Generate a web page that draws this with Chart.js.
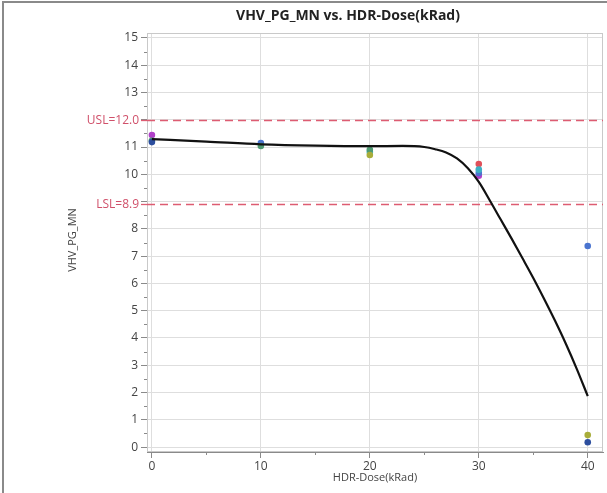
<!DOCTYPE html>
<html>
<head>
<meta charset="utf-8">
<script src="https://cdn.jsdelivr.net/npm/chart.js@4/dist/chart.umd.min.js"></script>
<style>
    html, body { margin: 0; padding: 0; background: #fff; }
    #wrap { position: relative; width: 607px; height: 493px; }
    #frame { position: absolute; left: 2px; top: 1px; right: 0; bottom: 0; border-top: 2px solid #8a8a8a; border-left: 2px solid #8a8a8a; pointer-events: none; }
</style>
</head>
<body>
<div id="wrap">
    <canvas id="doseChart" width="607" height="493"></canvas>
    <div id="frame"></div>
</div>
<script>
// dose levels and per-unit readings (null = hidden behind another point)
const doseLevels = [0, 10, 20, 30, 40];
const unitBlue    = [null, 11.15, null, 10.05, 7.37];
const unitRed     = [null, null, null, 10.38, null];
const unitGreen   = [11.23, 11.04, 10.9, null, null];
const unitMagenta = [11.44, null, null, 9.95, null];
const unitTeal    = [null, null, 10.82, 10.17, null];
const unitOlive   = [null, null, 10.71, null, 0.44];
const unitNavy    = [11.18, null, null, null, 0.18];

// fitted curve
const fitDose = [0, 5, 10, 15, 20, 23, 25, 26, 27, 28, 29, 30, 31, 32, 33, 34, 35, 36, 37, 38, 39, 40];
const fitVal  = [11.29, 11.2, 11.1, 11.05, 11.03, 11.04, 11.0, 10.92, 10.8, 10.58, 10.22, 9.72, 9.05, 8.35, 7.65, 6.93, 6.2, 5.43, 4.63, 3.78, 2.86, 1.87];

const yTicks = [0, 1, 2, 3, 4, 5, 6, 7, 8, 9, 10, 11, 12, 13, 14, 15];
const xTicks = [0, 10, 20, 30, 40];
const specLimits = [
    { label: 'USL=12.0', value: 12.0 },
    { label: 'LSL=8.9', value: 8.9 }
];
// tick labels covered by the spec limit labels
const hiddenYLabels = [12, 9];

const chartTitle = 'VHV_PG_MN vs. HDR-Dose(kRad)';
const yTitle = 'VHV_PG_MN';
const xTitle = 'HDR-Dose(kRad)';

const FONT = '"Open Sans", "Noto Sans", sans-serif';

function toPoints(values) {
    return doseLevels.map((d, i) => ({ x: d, y: values[i] })).filter(p => p.y !== null);
}

const units = [
    { vals: unitNavy, color: '#2c4e9e' },
    { vals: unitOlive, color: '#a8ad3a' },
    { vals: unitGreen, color: '#4f9a72' },
    { vals: unitTeal, color: '#3cb0c4' },
    { vals: unitBlue, color: '#4a74cf' },
    { vals: unitRed, color: '#e0505a' },
    { vals: unitMagenta, color: '#b040c8' }
];

const datasets = units.map(u => ({
    type: 'scatter',
    data: toPoints(u.vals),
    backgroundColor: u.color,
    borderColor: u.color,
    pointRadius: 3.3,
    borderWidth: 0,
    order: 2
}));

datasets.push({
    type: 'line',
    data: fitDose.map((d, i) => ({ x: d, y: fitVal[i] })),
    borderColor: '#111',
    borderWidth: 2.2,
    pointRadius: 0,
    cubicInterpolationMode: 'monotone',
    fill: false,
    order: 1
});

// extras: minor ticks, spec lines, titles, plot frame
const extras = {
    id: 'extras',
    beforeDatasetsDraw(chart) {
        const { ctx, chartArea: a, scales: { x, y } } = chart;
        ctx.save();
        ctx.strokeStyle = '#c9c9c9';
        ctx.lineWidth = 1;
        ctx.strokeRect(a.left + 0.5, a.top + 0.5, a.right - a.left - 1, a.bottom - a.top - 1);

        // minor ticks
        ctx.strokeStyle = '#8a8a8a';
        ctx.beginPath();
        for (let v = 0.5; v < 15; v += 1) {
            const py = Math.round(y.getPixelForValue(v)) + 0.5;
            ctx.moveTo(a.left - 3, py);
            ctx.lineTo(a.left, py);
        }
        for (let v = 5; v < 41; v += 10) {
            const px = Math.round(x.getPixelForValue(v)) + 0.5;
            ctx.moveTo(px, a.bottom);
            ctx.lineTo(px, a.bottom + 3);
        }
        ctx.stroke();

        // spec limits
        ctx.strokeStyle = '#dd5c72';
        ctx.fillStyle = '#d0506a';
        ctx.lineWidth = 1.3;
        ctx.font = '12px ' + FONT;
        ctx.textAlign = 'right';
        ctx.textBaseline = 'middle';
        specLimits.forEach(s => {
            const py = Math.round(y.getPixelForValue(s.value)) + 0.5;
            ctx.setLineDash([8, 5]);
            ctx.beginPath();
            ctx.moveTo(a.left, py);
            ctx.lineTo(a.right, py);
            ctx.stroke();
            ctx.setLineDash([]);
            ctx.beginPath();
            ctx.moveTo(a.left - 6, py);
            ctx.lineTo(a.left, py);
            ctx.stroke();
            ctx.fillText(s.label, a.left - 8, py);
        });
        ctx.restore();
    },
    afterDraw(chart) {
        const { ctx, chartArea: a } = chart;
        ctx.save();
        ctx.fillStyle = '#222';
        ctx.textAlign = 'center';
        ctx.textBaseline = 'middle';
        ctx.font = 'bold 14px ' + FONT;
        ctx.fillText(chartTitle, 348, 16);
        ctx.fillStyle = '#444';
        ctx.font = '11px ' + FONT;
        ctx.fillText(xTitle, (a.left + a.right) / 2, 478);
        ctx.translate(73, 240);
        ctx.rotate(-Math.PI / 2);
        ctx.fillText(yTitle, 0, 0);
        ctx.restore();
    }
};

new Chart(document.getElementById('doseChart'), {
    type: 'scatter',
    data: { datasets: datasets },
    options: {
        responsive: false,
        animation: false,
        layout: { padding: { top: 33, right: 3, left: 0, bottom: 0 } },
        plugins: { legend: { display: false }, tooltip: { enabled: false } },
        scales: {
            x: {
                type: 'linear',
                min: -0.45,
                max: 41.4,
                afterBuildTicks: s => { s.ticks = xTicks.map(v => ({ value: v })); },
                afterFit: s => { s.height = 41; },
                grid: { color: '#dedede', tickColor: '#8a8a8a', tickLength: 6 },
                border: { color: '#8a8a8a' },
                ticks: { color: '#444', font: { family: FONT, size: 12 }, padding: 1, maxRotation: 0 }
            },
            y: {
                type: 'linear',
                min: -0.18,
                max: 15.18,
                afterBuildTicks: s => { s.ticks = yTicks.map(v => ({ value: v })); },
                afterFit: s => { s.width = 147; },
                grid: { color: '#dedede', tickColor: '#8a8a8a', tickLength: 6 },
                border: { color: '#8a8a8a' },
                ticks: {
                    color: '#444',
                    font: { family: FONT, size: 12 },
                    padding: 3,
                    callback: v => hiddenYLabels.includes(v) ? '' : v
                }
            }
        }
    },
    plugins: [extras]
});
</script>
</body>
</html>
